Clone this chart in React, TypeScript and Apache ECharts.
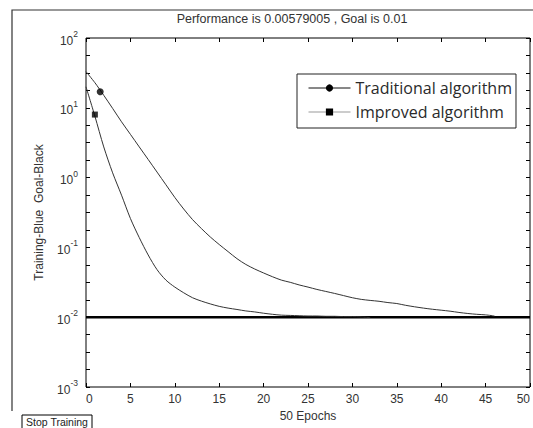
import React, { useEffect, useRef } from 'react';
import * as echarts from 'echarts';

const titleText = 'Performance is 0.00579005 , Goal is 0.01';
const xAxisName = '50 Epochs';
const yAxisName = 'Training-Blue  Goal-Black';
const buttonText = 'Stop Training';
const seriesNames = ['Traditional algorithm', 'Improved algorithm'];

// performance per epoch (index = epoch)
const traditionalValues = [
  33, 22.9, 15.1, 9.8, 6.3, 4.17, 2.75, 1.82, 1.2, 0.79, 0.52, 0.355, 0.25, 0.186, 0.141,
  0.11, 0.087, 0.069, 0.057, 0.049, 0.043, 0.038, 0.034, 0.0316, 0.029, 0.027, 0.025,
  0.0234, 0.0219, 0.0204, 0.019, 0.018, 0.0174, 0.0169, 0.0162, 0.0157, 0.0148, 0.0141,
  0.0135, 0.013, 0.0126, 0.0122, 0.0117, 0.0113, 0.011, 0.0108, 0.0104,
];
const improvedValues = [
  20, 7.6, 2.75, 1.17, 0.56, 0.26, 0.138, 0.078, 0.048, 0.034, 0.027, 0.0224, 0.019,
  0.017, 0.0155, 0.0143, 0.0135, 0.0129, 0.0123, 0.0119, 0.0114, 0.011, 0.0107, 0.0106,
  0.0105, 0.0104, 0.0104, 0.0103, 0.0103, 0.0102, 0.0102, 0.0101, 0.0099,
];
// single marker drawn on each curve [epoch, value]
const traditionalMarker = [[1.6, 17]];
const improvedMarker = [[1, 8]];

const goalValue = 0.01;
const goalEpochs = [0, 50];

const xMin = 0;
const xMax = 50;
const xInterval = 5;
const yMin = 0.001;
const yMax = 100;
const expMin = -3;
const expMax = 2;
const expTickStep = 0.25;

const FONT = 'Liberation Sans, Arial, sans-serif';
const LEGEND_FONT = 'Open Sans, Noto Sans, sans-serif';

export default function App() {
  const ref = useRef<HTMLDivElement>(null);

  useEffect(() => {
    document.body.style.margin = '0';
    const chart = echarts.init(ref.current!, null, { renderer: 'svg' });

    const tickAxisCommon = {
      axisLine: { show: false, onZero: false },
      axisLabel: { show: false },
      splitLine: { show: false },
      axisTick: { show: true, inside: true, length: 4, lineStyle: { color: '#000', width: 1 } },
    };

    const option: any = {
      animation: false,
      backgroundColor: '#fff',
      grid: {
        left: 86,
        top: 38,
        width: 444,
        height: 349,
        show: true,
        borderColor: '#000',
        borderWidth: 1,
        backgroundColor: 'transparent',
        containLabel: false,
        outerBoundsMode: 'none',
      },
      legend: {
        show: true,
        orient: 'vertical',
        left: 297,
        top: 74,
        padding: [6, 4, 8, 11],
        itemGap: 8,
        itemWidth: 42,
        itemHeight: 9,
        borderColor: '#222',
        borderWidth: 1,
        backgroundColor: '#fff',
        selectedMode: false,
        textStyle: { fontFamily: LEGEND_FONT, fontSize: 16, color: '#2a2a2a', lineHeight: 16 },
        data: [
          { name: seriesNames[0], lineStyle: { color: '#111', width: 1 }, itemStyle: { color: '#000' } },
          { name: seriesNames[1], lineStyle: { color: '#999', width: 1 }, itemStyle: { color: '#000' } },
        ],
      },
      xAxis: [
        {
          type: 'value',
          position: 'bottom',
          min: xMin,
          max: xMax,
          interval: xInterval,
          axisLine: { show: false, onZero: false },
          splitLine: { show: false },
          axisTick: { show: true, inside: true, length: 4, lineStyle: { color: '#000' } },
          axisLabel: {
            show: true,
            margin: 6,
            fontSize: 12,
            fontFamily: FONT,
            color: '#333',
            alignMinLabel: 'left',
            alignMaxLabel: 'right',
          },
          name: xAxisName,
          nameLocation: 'middle',
          nameGap: 18,
          nameTextStyle: { fontSize: 12, fontFamily: FONT, color: '#333' },
        },
        {
          type: 'value',
          position: 'top',
          min: xMin,
          max: xMax,
          interval: xInterval,
          ...tickAxisCommon,
        },
      ],
      yAxis: [
        {
          type: 'log',
          logBase: 10,
          position: 'left',
          min: yMin,
          max: yMax,
          splitNumber: 5,
          axisLine: { show: false, onZero: false },
          splitLine: { show: false },
          axisTick: { show: false },
          axisLabel: {
            show: true,
            margin: 8,
            color: '#333',
            fontFamily: FONT,
            formatter: (v: number) => {
              const e = Math.round(Math.log10(v));
              return `{b|10}{s|${e}}`;
            },
            rich: {
              b: { fontSize: 12, fontFamily: FONT, color: '#333', lineHeight: 17, verticalAlign: 'bottom' },
              s: { fontSize: 8.5, fontFamily: FONT, color: '#333', lineHeight: 10, verticalAlign: 'top' },
            },
          },
          name: yAxisName,
          nameLocation: 'middle',
          nameRotate: 90,
          nameGap: 41,
          nameTextStyle: { fontSize: 12, fontFamily: FONT, color: '#333' },
        },
        {
          type: 'value',
          position: 'left',
          min: expMin,
          max: expMax,
          interval: expTickStep,
          ...tickAxisCommon,
        },
        {
          type: 'value',
          position: 'right',
          min: expMin,
          max: expMax,
          interval: expTickStep,
          ...tickAxisCommon,
        },
      ],
      series: [
        {
          name: seriesNames[0],
          type: 'line',
          xAxisIndex: 0,
          yAxisIndex: 0,
          symbol: 'circle',
          showSymbol: false,
          smooth: 0.3,
          data: traditionalValues.map((v, i) => [i, v]),
          lineStyle: { color: '#333', width: 1 },
          itemStyle: { color: '#000' },
          z: 3,
        },
        {
          name: seriesNames[1],
          type: 'line',
          xAxisIndex: 0,
          yAxisIndex: 0,
          symbol: 'rect',
          showSymbol: false,
          smooth: 0.3,
          data: improvedValues.map((v, i) => [i, v]),
          lineStyle: { color: '#333', width: 1 },
          itemStyle: { color: '#000' },
          z: 3,
        },
        {
          name: 'Goal',
          type: 'line',
          xAxisIndex: 0,
          yAxisIndex: 0,
          showSymbol: false,
          symbol: 'none',
          data: goalEpochs.map((e) => [e, goalValue]),
          lineStyle: { color: '#000', width: 2.5 },
          z: 2,
        },
        {
          name: seriesNames[0],
          type: 'scatter',
          xAxisIndex: 0,
          yAxisIndex: 0,
          symbol: 'circle',
          symbolSize: 7,
          data: traditionalMarker,
          itemStyle: { color: '#000' },
          z: 4,
        },
        {
          name: seriesNames[1],
          type: 'scatter',
          xAxisIndex: 0,
          yAxisIndex: 0,
          symbol: 'rect',
          symbolSize: 6,
          data: improvedMarker,
          itemStyle: { color: '#000' },
          z: 4,
        },
      ],
      graphic: [
        {
          type: 'polyline',
          shape: { points: [[12, 411], [12, 10], [540, 10]] },
          style: { stroke: '#333', lineWidth: 1.2, fill: 'none' },
          silent: true,
        },
        {
          type: 'text',
          x: 292,
          y: 19,
          style: {
            text: titleText,
            fontSize: 12.5,
            fontFamily: FONT,
            fill: '#333',
            textAlign: 'center',
            textVerticalAlign: 'middle',
          },
        },
        {
          type: 'rect',
          shape: { x: 22, y: 415, width: 70, height: 16 },
          style: { stroke: '#000', lineWidth: 1, fill: '#fff' },
        },
        {
          type: 'text',
          x: 57,
          y: 422,
          style: {
            text: buttonText,
            fontSize: 10.5,
            fontFamily: FONT,
            fill: '#222',
            textAlign: 'center',
            textVerticalAlign: 'middle',
          },
        },
      ],
    };

    chart.setOption(option);
    return () => chart.dispose();
  }, []);

  return <div ref={ref} style={{ width: 533, height: 428 }} />;
}
